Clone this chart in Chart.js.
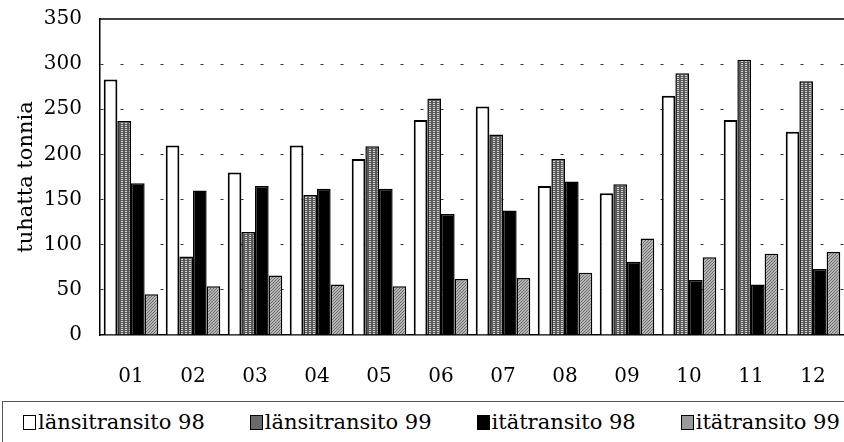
<!DOCTYPE html>
<html>
<head>
<meta charset="utf-8">
<script src="https://cdn.jsdelivr.net/npm/chart.js@4/dist/chart.umd.min.js"></script>
<style>
  body { margin: 0; background: #fff; }
  #wrap { width: 844px; height: 442px; position: relative; }
  #kaavio { position: absolute; left: 0; top: 0; }
  #selite {
    position: absolute; left: 2px; top: 401px; width: 842px; height: 41px;
    border-left: 1px solid #555; border-top: 1px solid #555; box-sizing: border-box;
    display: flex; align-items: center; padding-left: 20px;
    font: 21px 'DejaVu Serif', serif; color: #000;
  }
  .item { display: flex; align-items: center; margin-right: 45px; white-space: nowrap; }
  .item:last-child { margin-right: 0; }
  .box { width: 11px; height: 13px; border: 1.5px solid #000; margin-right: 2px; }
</style>
</head>
<body>
<div id="wrap">
  <canvas id="kaavio" width="844" height="400"></canvas>
  <div id="selite"></div>
</div>
<script>
// kuukaudet ja sarjat (tuhatta tonnia)
const kuukaudet = ["01", "02", "03", "04", "05", "06", "07", "08", "09", "10", "11", "12"];
const nimet = ["länsitransito 98", "länsitransito 99", "itätransito 98", "itätransito 99"];
const lansi98 = [283, 210, 180, 210, 195, 238, 253, 165, 157, 265, 238, 225];
const lansi99 = [237, 87, 114, 155, 209, 262, 222, 195, 167, 290, 305, 281];
const ita98 = [168, 160, 165, 162, 162, 134, 138, 170, 81, 61, 56, 73];
const ita99 = [45, 54, 66, 56, 54, 62, 63, 69, 107, 86, 90, 92];

// pienet kuviot harmaille pylväille
function kuvio(pohja, piste, koko, pisteet) {
  const c = document.createElement('canvas');
  c.width = koko; c.height = koko;
  const g = c.getContext('2d');
  g.fillStyle = pohja;
  g.fillRect(0, 0, koko, koko);
  g.fillStyle = piste;
  pisteet.forEach(p => g.fillRect(p[0], p[1], 1, 1));
  return g.createPattern(c, 'repeat');
}
const raita = kuvio('#5a5a5a', '#d8d8d8', 4, [[1, 1], [2, 1], [1, 3], [2, 3]]);
const pilkku = kuvio('#b4b4b4', '#6e6e6e', 3, [[0, 0], [2, 1], [1, 2]]);

const taustat = ['#ffffff', raita, '#000000', pilkku];
const swatch = ['#fff', '#6a6a6a', '#000', '#9a9a9a'];

// selite
const selite = document.getElementById('selite');
nimet.forEach((n, i) => {
  const d = document.createElement('div');
  d.className = 'item';
  d.innerHTML = `<span class="box" style="background:${swatch[i]}"></span><span>${n}</span>`;
  selite.appendChild(d);
});

const ylaviiva = {
  id: 'ylaviiva',
  afterDraw(chart) {
    const a = chart.chartArea, ctx = chart.ctx;
    ctx.save();
    ctx.strokeStyle = '#000';
    ctx.lineWidth = 1.5;
    ctx.beginPath();
    ctx.moveTo(a.left, a.top);
    ctx.lineTo(a.right, a.top);
    ctx.stroke();
    ctx.restore();
  }
};

new Chart(document.getElementById('kaavio'), {
  type: 'bar',
  data: {
    labels: kuukaudet,
    datasets: [lansi98, lansi99, ita98, ita99].map((d, i) => ({
      label: nimet[i],
      data: d,
      backgroundColor: taustat[i],
      borderColor: '#000',
      borderWidth: i === 0 ? 2 : 1.5,
      categoryPercentage: 0.88,
      barPercentage: 1
    }))
  },
  options: {
    responsive: false,
    animation: false,
    layout: { padding: { top: 19, right: 0, left: 0, bottom: 0 } },
    plugins: { legend: { display: false }, tooltip: { enabled: false } },
    scales: {
      x: {
        grid: { display: false },
        border: { color: '#000', width: 1.5 },
        ticks: { color: '#000', padding: 22, font: { family: 'DejaVu Serif', size: 20 } },
        afterFit(s) { s.height = 65; s.paddingLeft = 0; s.paddingRight = 0; }
      },
      y: {
        min: 0, max: 350,
        ticks: { stepSize: 50, color: '#000', padding: 18, font: { family: 'DejaVu Serif', size: 20 } },
        grid: {
          drawTicks: false,
          color: c => (c.tick.value === 0 || c.tick.value === 350) ? 'rgba(0,0,0,0)' : '#333'
        },
        border: { color: '#000', width: 1.5, dash: [3, 17] },
        title: { display: true, text: 'tuhatta tonnia', color: '#000', font: { family: 'DejaVu Serif', size: 21 }, padding: { top: 14, bottom: 0 } },
        afterFit(s) { s.width = 100; s.paddingTop = 0; s.paddingBottom = 0; }
      }
    }
  },
  plugins: [ylaviiva]
});
</script>
</body>
</html>
